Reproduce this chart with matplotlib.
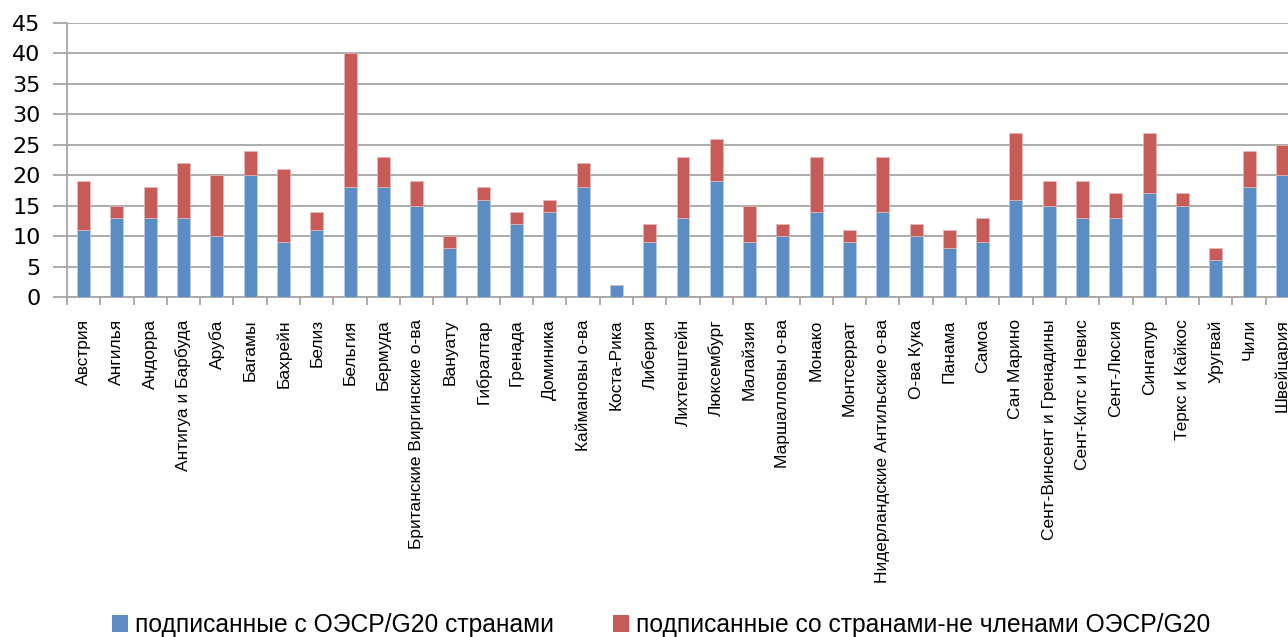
import numpy as np
import matplotlib.pyplot as plt
from matplotlib.patches import Patch

countries = ["Австрия", "Ангилья", "Андорра", "Антигуа и Барбуда", "Аруба", "Багамы",
             "Бахрейн", "Белиз", "Бельгия", "Бермуда", "Британские Виргинские о-ва",
             "Вануату", "Гибралтар", "Гренада", "Доминика", "Каймановы о-ва", "Коста-Рика",
             "Либерия", "Лихтенштейн", "Люксембург", "Малайзия", "Маршалловы о-ва",
             "Монако", "Монтсеррат", "Нидерландские Антильские о-ва", "О-ва Кука", "Панама",
             "Самоа", "Сан Марино", "Сент-Винсент и Гренадины", "Сент-Китс и Невис",
             "Сент-Люсия", "Сингапур", "Теркс и Кайкос", "Уругвай", "Чили", "Швейцария"]
oecd = [11, 13, 13, 13, 10, 20, 9, 11, 18, 18, 15, 8, 16, 12, 14, 18, 2,
        9, 13, 19, 9, 10, 14, 9, 14, 10, 8, 9, 16, 15, 13, 13, 17, 15, 6, 18, 20]
non_oecd = [8, 2, 5, 9, 10, 4, 12, 3, 22, 5, 4, 2, 2, 2, 2, 4, 0,
            3, 10, 7, 6, 2, 9, 2, 9, 2, 3, 4, 11, 4, 6, 4, 10, 2, 2, 6, 5]
series_names = ["подписанные с ОЭСР/G20 странами",
                "подписанные со странами-не членами ОЭСР/G20"]

blue = "#5b8cc3"
red = "#c75b58"
grid_c = "#a6a6a6"
label_font = ["Liberation Sans", "DejaVu Sans"]

fig = plt.figure(figsize=(12.88, 6.37), dpi=100)
ax = fig.add_axes([67 / 1288, 340 / 637, 1232 / 1288, 274 / 637])

x = np.arange(len(countries))
ax.bar(x, oecd, width=0.39, color=blue, edgecolor="#b9cde6", linewidth=0.5, zorder=3)
ax.bar(x, non_oecd, width=0.39, bottom=oecd, color=red, edgecolor="#e6b9b8",
       linewidth=0.5, zorder=3)

ax.set_xlim(-0.5, len(countries) - 0.5)
ax.set_ylim(0, 45)
ax.set_yticks(range(0, 46, 5))
ax.yaxis.grid(True, color=grid_c, linewidth=1.3, zorder=0)
ax.tick_params(axis="y", length=10, color=grid_c, width=1.3, labelsize=16, pad=9)

ax.set_xticks(x)
ax.set_xticklabels(countries, rotation=90, fontsize=12.5, family=label_font)
ax.set_xticks(np.arange(len(countries) + 1) - 0.5, minor=True)
ax.tick_params(axis="x", which="major", length=0, pad=16)
ax.tick_params(axis="x", which="minor", length=6, color=grid_c, width=1.3)

for s in ["top", "right"]:
    ax.spines[s].set_visible(False)
for s in ["left", "bottom"]:
    ax.spines[s].set_color(grid_c)
    ax.spines[s].set_linewidth(1.3)

handles = [Patch(facecolor=blue), Patch(facecolor=red)]
fig.legend(handles, series_names, loc="center", bbox_to_anchor=(661 / 1288, 1 - 625 / 637),
           ncol=2, frameon=False, prop={"family": label_font, "size": 17.7},
           handlelength=0.65, handleheight=0.65, handletextpad=0.3, columnspacing=2.4)

fig.savefig("out.png", dpi=100)
